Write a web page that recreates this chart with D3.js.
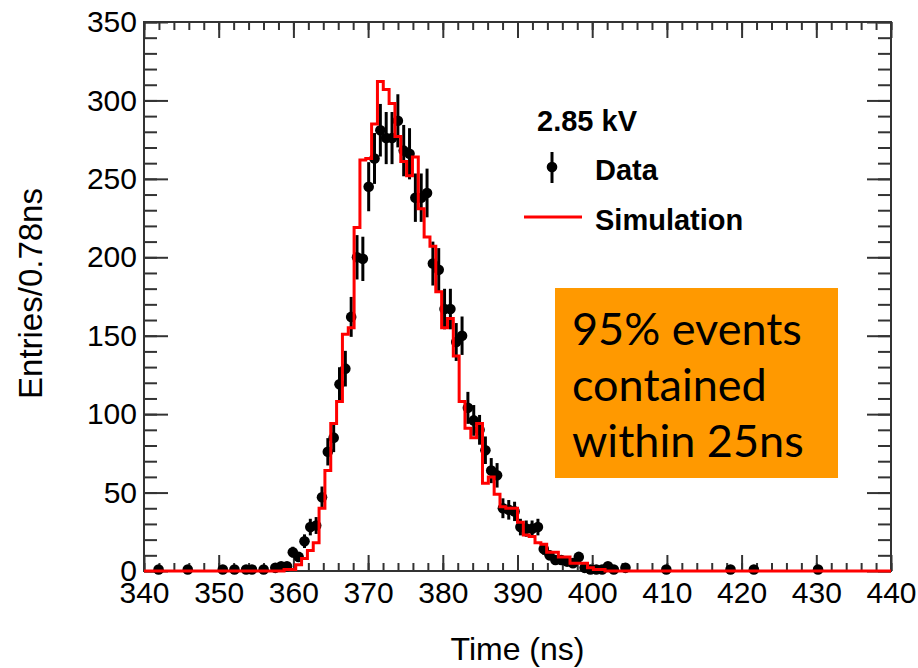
<!DOCTYPE html>
<html>
<head>
<meta charset="utf-8">
<script src="https://cdn.jsdelivr.net/npm/d3@7"></script>
<style>
  html, body { margin: 0; padding: 0; background: #fff; }
  svg text { font-family: "Liberation Sans", Arial, sans-serif; }
</style>
</head>
<body>
<div id="chart"></div>
<script>
// histogram range: 128 bins of 0.78 ns between 340 and 440 ns
const timeRange = [340, 440];
const binCount = 128;
const countRange = [0, 350];

// simulation (red histogram), non-empty bins starting at bin 24
const simFirstBin = 24;
const simCounts = [1, 1, 4, 8, 13, 18, 40, 64, 94, 108, 151, 155, 219, 262, 263, 285, 312, 307,
    298, 277, 261, 252, 264, 231, 213, 207, 178, 155, 161, 137, 108, 91, 85, 94, 56, 60, 49,
    41, 40, 40, 31, 23, 22, 18, 17, 12, 12, 9, 9, 5, 5, 5, 2, 1, 1];

// measured data points: bin index and entries
const dataBins = [2, 7, 13, 15, 17, 18, 20, 22, 23, 24, 25, 26, 27, 28, 29, 30, 31, 32, 33, 34,
    35, 36, 37, 38, 39, 40, 41, 42, 43, 44, 45, 46, 47, 48, 49, 50, 51, 52, 53, 54, 55, 56, 57,
    58, 59, 60, 61, 62, 63, 64, 65, 66, 67, 68, 69, 70, 71, 72, 73, 74, 75, 76, 77, 78, 79, 80,
    82, 89, 100, 104, 115];
const dataCounts = [1, 1, 1, 1, 1, 1, 1, 2, 3, 3, 12, 9, 19, 28, 29, 47, 76, 85, 119, 129,
    162, 200, 199, 245, 263, 281, 276, 276, 287, 268, 266, 238, 238, 241, 196, 192, 167, 167,
    146, 150, 104, 96, 90, 77, 64, 61, 40, 39, 38, 28, 27, 27, 28, 14, 10, 7, 7, 6, 5, 9, 2,
    1, 1, 1, 3, 1, 2, 1, 1, 1, 1];

const xMajorTicks = d3.range(340, 441, 10);
const xMinorTicks = d3.range(340, 441, 2);
const yMajorTicks = d3.range(0, 351, 50);
const yMinorTicks = d3.range(0, 351, 10);

const legendTitle = '2.85 kV';
const legendLabels = ['Data', 'Simulation'];
const noteLines = ['95% events', 'contained', 'within 25ns'];

const width = 918, height = 668;
const margin = { left: 144, top: 22, right: 27, bottom: 97 };
const plotW = width - margin.left - margin.right;
const plotH = height - margin.top - margin.bottom;

const svg = d3.select('#chart')
    .append('svg')
    .attr('width', width)
    .attr('height', height);

const x = d3.scaleLinear().domain(timeRange).range([0, plotW]);
const y = d3.scaleLinear().domain(countRange).range([plotH, 0]);
const binWidth = (timeRange[1] - timeRange[0]) / binCount;

const plot = svg.append('g')
    .attr('transform', `translate(${margin.left},${margin.top})`);

// axes: ticks drawn inward on all four sides
const axisColor = '#333';
function styleAxis(g) {
    g.select('.domain').remove();
    g.selectAll('line').attr('stroke', axisColor).attr('stroke-width', 2);
    g.selectAll('text')
        .attr('fill', '#000')
        .style('font-size', '30px')
        .attr('font-family', null);
}

plot.append('g')
    .attr('transform', `translate(0,${plotH})`)
    .call(d3.axisBottom(x).tickValues(xMinorTicks).tickSize(-8).tickFormat(''))
    .call(styleAxis);
plot.append('g')
    .attr('transform', `translate(0,${plotH})`)
    .call(d3.axisBottom(x).tickValues(xMajorTicks).tickSize(-16).tickPadding(11).tickFormat(d3.format('d')))
    .call(styleAxis);
plot.append('g')
    .call(d3.axisTop(x).tickValues(xMinorTicks).tickSize(-8).tickFormat(''))
    .call(styleAxis);
plot.append('g')
    .call(d3.axisTop(x).tickValues(xMajorTicks).tickSize(-16).tickFormat(''))
    .call(styleAxis);

plot.append('g')
    .call(d3.axisLeft(y).tickValues(yMinorTicks).tickSize(-13).tickFormat(''))
    .call(styleAxis);
plot.append('g')
    .call(d3.axisLeft(y).tickValues(yMajorTicks).tickSize(-24).tickPadding(7).tickFormat(d3.format('d')))
    .call(styleAxis);
plot.append('g')
    .attr('transform', `translate(${plotW},0)`)
    .call(d3.axisRight(y).tickValues(yMinorTicks).tickSize(-13).tickFormat(''))
    .call(styleAxis);
plot.append('g')
    .attr('transform', `translate(${plotW},0)`)
    .call(d3.axisRight(y).tickValues(yMajorTicks).tickSize(-24).tickFormat(''))
    .call(styleAxis);

plot.append('rect')
    .attr('x', 0)
    .attr('y', 0)
    .attr('width', plotW)
    .attr('height', plotH)
    .style('fill', 'none')
    .style('stroke', axisColor)
    .style('stroke-width', 2);

// data points with sqrt(N) error bars
const points = dataBins.map((b, i) => ({
    t: timeRange[0] + (b + 0.5) * binWidth,
    n: dataCounts[i]
}));
const dataG = plot.append('g').classed('data', true);
dataG.selectAll('line')
    .data(points)
    .enter()
    .append('line')
    .attr('x1', d => x(d.t))
    .attr('x2', d => x(d.t))
    .attr('y1', d => y(d.n - Math.sqrt(d.n)))
    .attr('y2', d => y(d.n + Math.sqrt(d.n)))
    .style('stroke', '#000')
    .style('stroke-width', 3);
dataG.selectAll('circle')
    .data(points)
    .enter()
    .append('circle')
    .attr('cx', d => x(d.t))
    .attr('cy', d => y(d.n))
    .attr('r', 5.3)
    .style('fill', '#000');

// simulation histogram as a step outline over the whole range
const simAll = d3.range(binCount).map(b => {
    const j = b - simFirstBin;
    return (j >= 0 && j < simCounts.length) ? simCounts[j] : 0;
});
const steps = [];
simAll.forEach((n, b) => {
    steps.push([timeRange[0] + b * binWidth, n]);
    steps.push([timeRange[0] + (b + 1) * binWidth, n]);
});
const line = d3.line()
    .x(d => x(d[0]))
    .y(d => y(d[1]));
plot.append('path')
    .attr('d', line(steps))
    .style('fill', 'none')
    .style('stroke', '#ff0000')
    .style('stroke-width', 3)
    .style('stroke-linejoin', 'miter');

// axis titles
svg.append('text')
    .attr('x', margin.left + plotW / 2)
    .attr('y', 660)
    .attr('text-anchor', 'middle')
    .style('font-size', '32px')
    .text('Time (ns)');
svg.append('text')
    .attr('transform', `translate(42,${margin.top + plotH / 2 - 3}) rotate(-90)`)
    .attr('text-anchor', 'middle')
    .style('font-size', '33px')
    .text('Entries/0.78ns');

// legend
const legend = svg.append('g');
legend.append('text')
    .attr('x', 537)
    .attr('y', 131)
    .style('font-size', '29px')
    .style('font-weight', 'bold')
    .text(legendTitle);
legend.append('line')
    .attr('x1', 552).attr('x2', 552)
    .attr('y1', 152).attr('y2', 183)
    .style('stroke', '#000')
    .style('stroke-width', 3);
legend.append('circle')
    .attr('cx', 552).attr('cy', 167).attr('r', 5.3)
    .style('fill', '#000');
legend.append('line')
    .attr('x1', 524).attr('x2', 582)
    .attr('y1', 217).attr('y2', 217)
    .style('stroke', '#ff0000')
    .style('stroke-width', 3);
legend.selectAll('.label')
    .data(legendLabels)
    .enter()
    .append('text')
    .classed('label', true)
    .attr('x', 595)
    .attr('y', (d, i) => 180 + i * 50)
    .style('font-size', '29px')
    .style('font-weight', 'bold')
    .text(d => d);

// orange note box
const note = svg.append('g');
note.append('rect')
    .attr('x', 555)
    .attr('y', 288)
    .attr('width', 283)
    .attr('height', 190)
    .style('fill', '#ff9900');
note.selectAll('text')
    .data(noteLines)
    .enter()
    .append('text')
    .attr('x', 572)
    .attr('y', (d, i) => 345 + i * 56)
    .style('font-family', 'Lato, "Open Sans", sans-serif')
    .style('font-size', '45px')
    .style('fill', '#000')
    .text(d => d);
</script>
</body>
</html>
